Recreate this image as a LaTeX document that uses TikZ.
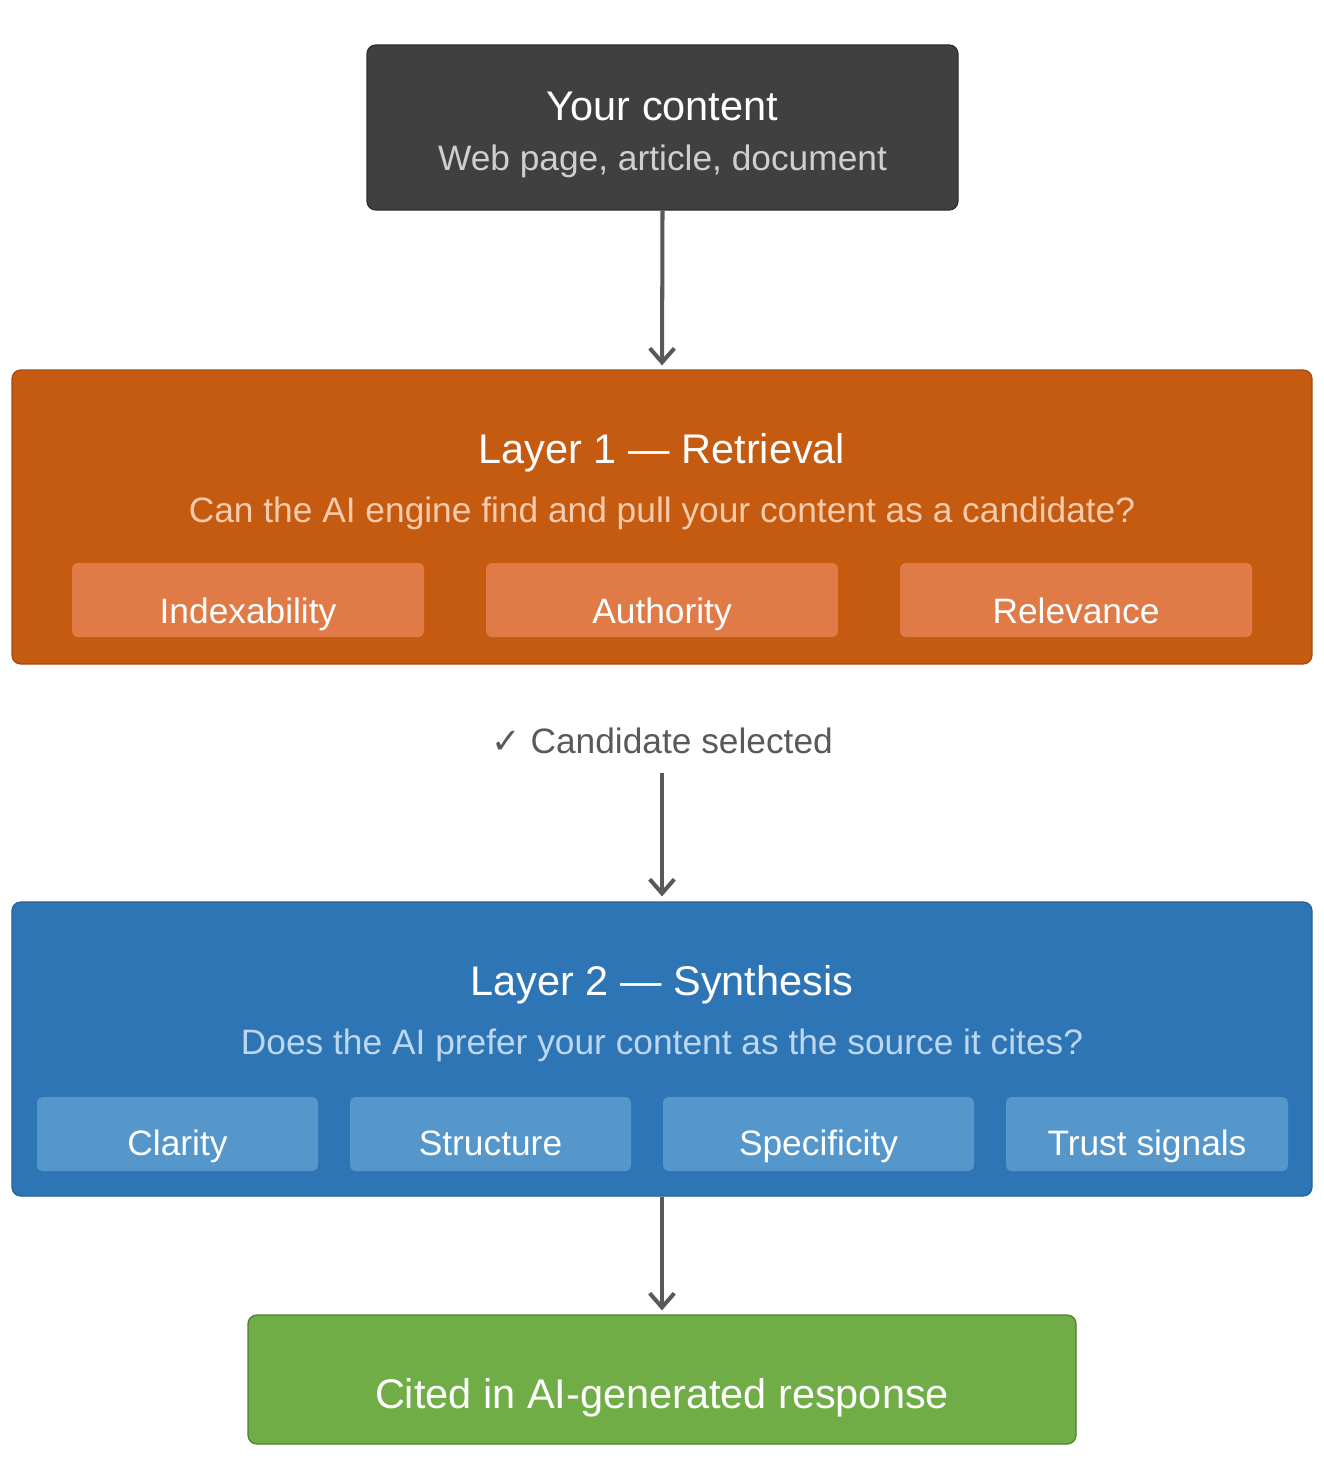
\documentclass[tikz,border=0pt]{standalone}
\usepackage{fontspec}
\setmainfont{Liberation Sans}
\newfontfamily\symfont{DejaVu Sans}
\usetikzlibrary{arrows.meta}
\newlength\pxl
\setlength\pxl{0.02cm}
\definecolor{darkbox}{HTML}{404040}
\definecolor{darkedge}{HTML}{2E2E2E}
\definecolor{darktext}{HTML}{CFCFCF}
\definecolor{retrorange}{HTML}{C55A11}
\definecolor{retredge}{HTML}{A24A0E}
\definecolor{retrsub}{HTML}{E07B47}
\definecolor{retrtext}{HTML}{F8CBAD}
\definecolor{synthblue}{HTML}{2E75B6}
\definecolor{synthedge}{HTML}{25609A}
\definecolor{synthsub}{HTML}{5596CB}
\definecolor{synthtext}{HTML}{BDD7EE}
\definecolor{citegreen}{HTML}{70AD47}
\definecolor{citeedge}{HTML}{507E32}
\definecolor{arrowgray}{HTML}{595959}
\begin{document}
\begin{tikzpicture}[x=\pxl, y=-\pxl,
	layerbox/.style={rounded corners=5pt, line width=0.7pt, inner sep=0pt},
	subbox/.style={rounded corners=3pt, inner sep=0pt, minimum height=74\pxl},
	bigtext/.style={inner sep=0pt, anchor=base, text=white, font=\fontsize{23.6}{28}\selectfont},
	smalltext/.style={inner sep=0pt, anchor=base, font=\fontsize{20.1}{24}\selectfont},
	flow/.style={draw=arrowgray, line width=2.3pt, -{Straight Barb[length=8pt, width=14pt, line width=2.3pt]}}]
	\useasboundingbox (0,0) rectangle (1324,1460);
	% boxes of the three stages
	\node[layerbox, draw=darkedge, fill=darkbox, minimum width=591\pxl, minimum height=165\pxl] (src) at (662.5,127.5) {};
	\node[bigtext] (srctitle) at (662.5,120) {Your content};
	\node[smalltext, text=darktext] (srcsub) at (662.5,171) {Web page, article, document};

	\node[layerbox, draw=retredge, fill=retrorange, minimum width=1300\pxl, minimum height=294\pxl] (l1) at (662,517) {};
	\node[bigtext] (l1title) at (662,463) {Layer 1 — Retrieval};
	\node[smalltext, text=retrtext] (l1sub) at (662,522) {Can the AI engine find and pull your content as a candidate?};
	\foreach \cx/\w/\lbl [count=\i] in {248/352/Indexability, 662/352/Authority, 1076/352/Relevance} {
		\node[subbox, fill=retrsub, minimum width=\w\pxl] (r\i) at (\cx,600) {};
		\node[smalltext, text=white] (r\i text) at (\cx,623) {\lbl};
	}

	\node[smalltext, text=arrowgray] (cand) at (662,753) {{\symfont ✓} Candidate selected};

	\node[layerbox, draw=synthedge, fill=synthblue, minimum width=1300\pxl, minimum height=294\pxl] (l2) at (662,1049) {};
	\node[bigtext] (l2title) at (662,995) {Layer 2 — Synthesis};
	\node[smalltext, text=synthtext] (l2sub) at (662,1054) {Does the AI prefer your content as the source it cites?};
	\foreach \cx/\w/\lbl [count=\i] in {177.5/281/Clarity, 490.5/281/Structure, 818.5/311/Specificity, 1147/282/Trust signals} {
		\node[subbox, fill=synthsub, minimum width=\w\pxl] (s\i) at (\cx,1134) {};
		\node[smalltext, text=white] (s\i text) at (\cx,1155) {\lbl};
	}

	\node[layerbox, draw=citeedge, fill=citegreen, minimum width=828\pxl, minimum height=129\pxl] (cited) at (662,1379.5) {};
	\node[bigtext] (citedtext) at (662,1408) {Cited in AI-generated response};

	\draw[flow, shorten >=4\pxl] (src.south) -- (l1.north);
	\draw[flow, shorten <=19\pxl, shorten >=5\pxl] (cand.south) -- (l2.north);
	\draw[flow, shorten >=4\pxl] (l2.south) -- (cited.north);
\end{tikzpicture}
\end{document}
